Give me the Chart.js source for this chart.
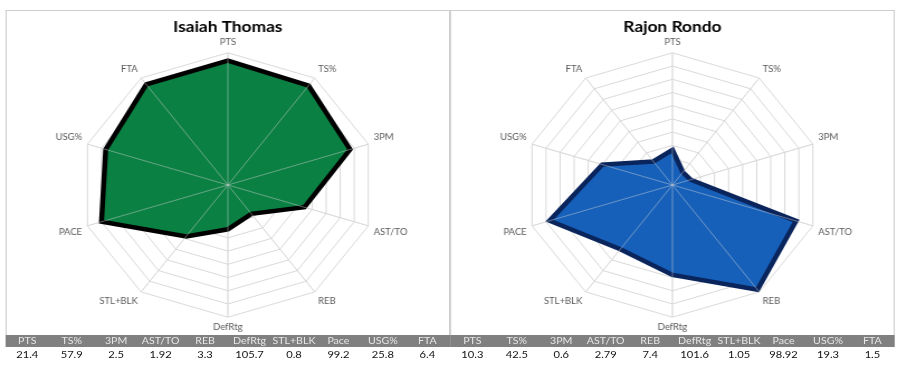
<!DOCTYPE html>
<html>
<head>
<meta charset="utf-8">
<script src="https://cdn.jsdelivr.net/npm/chart.js@4/dist/chart.umd.min.js"></script>
<style>
  html, body { margin: 0; padding: 0; background: #fff; }
  body { width: 900px; height: 371px; overflow: hidden; position: relative; }
  /* the original picture is stretched sideways, so the whole sheet is too */
  #sheet { position: absolute; left: 0; top: 0; width: 806px; height: 371px;
           transform: scaleX(1.117); transform-origin: 0 0;
           font-family: Lato, "Open Sans", sans-serif; }
  .panel { position: absolute; top: 10px; height: 325px; width: 398px;
           border: 1px solid #cdcdcd; border-bottom: none; box-sizing: border-box; }
  .panel canvas { display: block; }
  .stats { position: absolute; top: 335px; width: 398px; }
  .stats .row { display: flex; }
  .stats .row div { flex: 1; text-align: center; }
  .stats .head { background: #808080; color: #e6e6e6; font-size: 9.5px; height: 12px; line-height: 12px; }
  .stats .vals { color: #111; font-size: 10px; height: 13px; line-height: 15px; }
</style>
</head>
<body>
<div id="sheet">
  <div class="panel" style="left:4.5px"><canvas id="chartThomas" width="396" height="324"></canvas></div>
  <div class="panel" style="left:403px"><canvas id="chartRondo" width="396" height="324"></canvas></div>
  <div class="stats" id="statsThomas" style="left:4.5px"></div>
  <div class="stats" id="statsRondo" style="left:403px"></div>
</div>
<script>
( () => {

  let axisLabels = ['PTS', 'TS%', '3PM', 'AST/TO', 'REB', 'DefRtg', 'STL+BLK', 'PACE', 'USG%', 'FTA'];
  // scaled 0-100 values as drawn on the radar
  let thomasScaled = [94, 93, 87, 54.5, 27, 33.5, 48, 90, 87, 94];
  let rondoScaled = [26.5, 12, 13, 88, 98, 68, 60, 87.5, 50, 22];

  // raw numbers for the table under each chart
  let tableHeads = ['PTS', 'TS%', '3PM', 'AST/TO', 'REB', 'DefRtg', 'STL+BLK', 'Pace', 'USG%', 'FTA'];
  let thomasStats = ['21.4', '57.9', '2.5', '1.92', '3.3', '105.7', '0.8', '99.2', '25.8', '6.4'];
  let rondoStats = ['10.3', '42.5', '0.6', '2.79', '7.4', '101.6', '1.05', '98.92', '19.3', '1.5'];

  let labelFont = { family: 'Lato', size: 8.5 };

  function drawRadar(id, title, values, fillColor, lineColor) {
    let ctx = document.getElementById(id).getContext('2d');
    new Chart(ctx, {
      type: 'radar',
      data: {
        labels: axisLabels,
        datasets: [{
          data: values,
          backgroundColor: fillColor,
          borderColor: lineColor,
          borderWidth: 4.5,
          borderJoinStyle: 'miter',
          fill: true,
          pointRadius: 0
        }]
      },
      options: {
        responsive: false,
        animation: false,
        layout: { padding: { bottom: 1 } },
        plugins: {
          legend: { display: false },
          tooltip: { enabled: false },
          title: {
            display: true,
            text: title,
            color: '#000',
            font: { family: 'Lato', size: 15.5, weight: 'bold' },
            padding: { top: 7, bottom: 1 }
          }
        },
        elements: { line: { tension: 0 } },
        scales: {
          r: {
            min: 0,
            max: 100,
            ticks: { display: false, stepSize: 10 },
            grid: { color: '#d9d9d9', lineWidth: 1 },
            angleLines: { color: '#d9d9d9' },
            pointLabels: { color: '#595959', font: labelFont, padding: 5 }
          },
          // second copy of the axis, only for the spokes drawn over the fill
          spokes: {
            type: 'radialLinear',
            axis: 'r',
            min: 0,
            max: 100,
            ticks: { display: false, stepSize: 10 },
            grid: { display: false, z: 1 },
            angleLines: { color: 'rgba(215, 215, 215, 0.45)' },
            pointLabels: { color: 'rgba(0, 0, 0, 0)', font: labelFont, padding: 5 }
          }
        }
      }
    });
  }

  function fillTable(id, stats) {
    let box = document.getElementById(id);
    let head = '<div class="row head">' + tableHeads.map(h => '<div>' + h + '</div>').join('') + '</div>';
    let vals = '<div class="row vals">' + stats.map(v => '<div>' + v + '</div>').join('') + '</div>';
    box.innerHTML = head + vals;
  }

  drawRadar('chartThomas', 'Isaiah Thomas', thomasScaled, 'rgb(11, 128, 67)', '#000000');
  drawRadar('chartRondo', 'Rajon Rondo', rondoScaled, 'rgb(22, 96, 186)', 'rgb(10, 36, 92)');
  fillTable('statsThomas', thomasStats);
  fillTable('statsRondo', rondoStats);

})();
</script>
</body>
</html>
